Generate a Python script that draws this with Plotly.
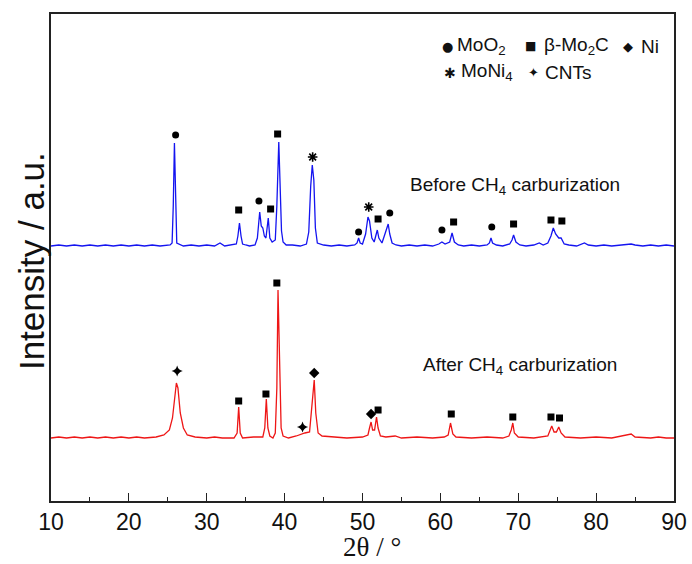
import plotly.graph_objects as go

# ---- data (2θ in degrees, intensity in arbitrary units above each baseline)
before_2theta = [10.0, 11, 12, 13, 14, 15, 16, 17, 18, 19, 20, 21, 22, 23, 24, 25.3, 25.55, 25.7, 25.85, 26.0, 26.15,
                 27, 28, 29, 30, 31, 31.7, 32.3, 33, 33.8, 34.0, 34.2, 34.4, 34.6, 35, 35.5, 36.2, 36.5, 36.8,
                 37.0, 37.2, 37.4, 37.6, 37.9, 38.1, 38.4, 38.8, 39.0, 39.25, 39.45, 39.6, 39.8, 40.2, 41, 42,
                 42.8, 43.1, 43.35, 43.55, 43.75, 43.95, 44.2, 45, 46, 47, 48, 49, 49.3, 49.5, 49.7, 50.0, 50.4,
                 50.7, 50.9, 51.2, 51.5, 51.9, 52.1, 52.5, 52.8, 53.0, 53.3, 53.5, 53.8, 54.3, 55, 56, 57, 58,
                 59, 59.8, 60.2, 60.6, 61.2, 61.5, 61.8, 62.3, 63, 64, 65, 66, 66.3, 66.5, 66.7, 67.2, 68, 68.9,
                 69.2, 69.4, 69.7, 70.2, 71, 72, 72.7, 73.2, 73.8, 74.2, 74.5, 74.8, 75.2, 75.5, 75.9, 76.5,
                 77.5, 78.5, 79, 80, 81, 82, 83, 84.5, 85, 86, 87, 88, 89, 90]
before_intensity = [0, 1, 0, 1, 0, 1, 0, 1, 0, 1, 0, 1, 0, 1, 0, 1, 3, 40, 103, 40, 3,
                    0, 1, 0, 1, 0, 3, 0, 1, 2, 10, 23, 10, 2, 1, 0, 1, 8, 34,
                    20, 18, 10, 8, 28, 8, 4, 6, 40, 104, 60, 15, 4, 1, 1, 0,
                    2, 14, 60, 81, 66, 18, 3, 1, 0, 1, 0, 1, 3, 8, 3, 2, 12,
                    29, 25, 8, 4, 16, 8, 3, 10, 14, 22, 12, 3, 1, 0, 1, 0, 1,
                    0, 2, 4, 2, 4, 13, 4, 1, 0, 1, 0, 1, 3, 8, 3, 1, 0, 2,
                    6, 11, 4, 1, 0, 1, 3, 1, 3, 10, 18, 12, 8, 8, 2, 1,
                    0, 3, 1, 0, 1, 0, 1, 2, 1, 0, 1, 0, 1, 0]

after_2theta = [10.0, 11, 12, 13, 14, 15, 16, 17, 18, 19, 20, 21, 22, 23.5, 24.5, 25.2, 25.6, 25.9, 26.1, 26.3,
                26.6, 27, 27.5, 28.5, 30, 31, 32, 33.5, 33.9, 34.1, 34.3, 34.6, 36, 37.2, 37.45, 37.65, 37.85,
                38.1, 38.5, 38.8, 39.0, 39.15, 39.35, 39.55, 39.8, 40.5, 41.5, 42.2, 42.6, 43.2, 43.5, 43.8,
                44.0, 44.3, 44.8, 46, 48, 50, 50.7, 50.9, 51.1, 51.3, 51.55, 51.8, 52.0, 52.3, 53, 54.2, 55,
                57, 59, 60.5, 61.0, 61.3, 61.6, 62, 64, 66, 68, 68.8, 69.1, 69.3, 69.5, 70, 72, 73.8, 74.1,
                74.3, 74.6, 74.9, 75.2, 75.5, 76, 78, 80, 82, 84.5, 85, 87, 88, 89, 90]
after_intensity = [0, 1, 0, 1, 0, 1, 0, 1, 0, 1, 0, 1, 0, 1, 3, 8, 20, 45, 55, 50,
                   25, 10, 3, 1, 0, 1, 0, 0, 5, 31, 5, 0, 1, 1, 10, 39, 10,
                   2, 0, 5, 50, 148, 60, 10, 2, 0, 2, 4, 5, 6, 30, 58,
                   25, 5, 2, 1, 0, 1, 3, 10, 16, 8, 8, 21, 10, 2, 1, 2, 0,
                   1, 0, 1, 3, 15, 4, 1, 0, 1, 0, 2, 8, 15, 5, 1, 0, 2, 8,
                   12, 6, 6, 11, 5, 1, 0, 1, 0, 4, 1, 0, 1, 0, 0]

# phase markers: position, height above baseline, phase
before_mark_2theta = [26.0, 34.1, 36.7, 38.2, 39.1, 43.6, 49.5, 50.8, 52.0, 53.5, 60.2, 61.7, 66.6, 69.4, 74.2, 75.6]
before_mark_height = [111, 36, 45, 37, 112, 89, 14, 39, 27, 33, 16, 24, 19, 22, 26, 25]
before_mark_phase = ["MoO2", "Mo2C", "MoO2", "Mo2C", "Mo2C", "MoNi4", "MoO2", "MoNi4", "Mo2C", "MoO2",
                     "MoO2", "Mo2C", "MoO2", "Mo2C", "Mo2C", "Mo2C"]

after_mark_2theta = [26.2, 34.1, 37.6, 39.0, 42.3, 43.8, 51.1, 52.0, 61.4, 69.3, 74.2, 75.3]
after_mark_height = [67, 37, 44, 155, 11, 65, 24, 28, 24, 21, 21, 20]
after_mark_phase = ["CNTs", "Mo2C", "Mo2C", "Mo2C", "CNTs", "Ni", "Ni", "Mo2C", "Mo2C", "Mo2C", "Mo2C", "Mo2C"]

x_ticks = [10, 20, 30, 40, 50, 60, 70, 80, 90]

BEFORE_OFFSET = 255
AFTER_OFFSET = 63

SYMBOLS = {"MoO2": ("circle", 7), "Mo2C": ("square", 7), "Ni": ("diamond", 8),
           "MoNi4": ("asterisk-open", 8), "CNTs": ("star-diamond", 8)}

fig = go.Figure()
fig.add_trace(go.Scatter(x=before_2theta, y=[v + BEFORE_OFFSET for v in before_intensity], mode="lines",
                         line=dict(color="#1414f0", width=1.3), showlegend=False))
fig.add_trace(go.Scatter(x=after_2theta, y=[v + AFTER_OFFSET for v in after_intensity], mode="lines",
                         line=dict(color="#ee1616", width=1.3), showlegend=False))

def add_marks(xs, hs, phases, offset):
    for ph, (sym, size) in SYMBOLS.items():
        px = [x for x, p in zip(xs, phases) if p == ph]
        py = [h + offset for h, p in zip(hs, phases) if p == ph]
        if not px:
            continue
        fig.add_trace(go.Scatter(x=px, y=py, mode="markers", showlegend=False,
                                 marker=dict(symbol=sym, size=size, color="black",
                                             line=dict(color="black", width=1.6 if "asterisk" in sym else 0))))

add_marks(before_mark_2theta, before_mark_height, before_mark_phase, BEFORE_OFFSET)
add_marks(after_mark_2theta, after_mark_height, after_mark_phase, AFTER_OFFSET)

FONT = "Liberation Sans, Arial, sans-serif"
ann = []
ann.append(dict(x=69.6, y=315, text="Before CH<sub>4</sub> carburization", showarrow=False,
                font=dict(family=FONT, size=19, color="#111"), xanchor="center", yanchor="middle"))
ann.append(dict(x=70.2, y=135, text="After CH<sub>4</sub> carburization", showarrow=False,
                font=dict(family=FONT, size=19, color="#111"), xanchor="center", yanchor="middle"))
# legend key: symbol glyphs and labels
legend_syms = [(60.9, 455, "●", 13), (71.6, 455, "■", 12), (84.1, 455, "◆", 13),
               (61.2, 428, "✱", 14), (71.9, 429, "✦", 13)]
legend_labels = [(61.9, 455, "MoO<sub>2</sub>"), (73.0, 455, "β-Mo<sub>2</sub>C"), (85.5, 455, "Ni"),
                 (62.4, 429, "MoNi<sub>4</sub>"), (73.2, 429, "CNTs")]
for lx, ly, lt, fs in legend_syms:
    ann.append(dict(x=lx, y=ly, text=lt, showarrow=False, xanchor="center", yanchor="middle",
                    font=dict(family="DejaVu Sans", size=fs, color="#111")))
for lx, ly, lt in legend_labels:
    ann.append(dict(x=lx, y=ly, text=lt, showarrow=False, xanchor="left", yanchor="middle",
                    font=dict(family=FONT, size=19, color="#111")))
ann.append(dict(x=-0.031, y=0.492, xref="paper", yref="paper", text="Intensity / a.u.", textangle=-90,
                showarrow=False, xanchor="center", yanchor="middle",
                font=dict(family=FONT, size=35, color="#111")))
ann.append(dict(x=0.515, y=-0.094, xref="paper", yref="paper", text="2θ / °", showarrow=False,
                xanchor="center", yanchor="middle", borderpad=0,
                font=dict(family="Liberation Serif, Times New Roman, serif", size=27, color="#111")))

fig.update_layout(
    width=692, height=564, margin=dict(l=51, r=18, t=14, b=63),
    paper_bgcolor="white", plot_bgcolor="white", annotations=ann,
    xaxis=dict(range=[10, 90], tickvals=x_ticks, ticks="inside", ticklen=8, tickwidth=1.3, tickcolor="#222",
               minor=dict(ticks="inside", ticklen=4, dtick=5, tickwidth=1.2, tickcolor="#222"),
               showline=True, linecolor="#222", linewidth=1.6, mirror=True, showgrid=False, zeroline=False,
               tickfont=dict(family=FONT, size=23, color="#111"), automargin=False),
    yaxis=dict(range=[0, 487], showline=True, linecolor="#222", linewidth=1.6, mirror=True, showgrid=False,
               zeroline=False, showticklabels=False, ticks="", automargin=False),
)
fig.write_html("out.html", config={"displayModeBar": False},
               post_script="document.body.style.margin='0';document.body.style.padding='0';"
                           "document.body.style.overflow='hidden';")
